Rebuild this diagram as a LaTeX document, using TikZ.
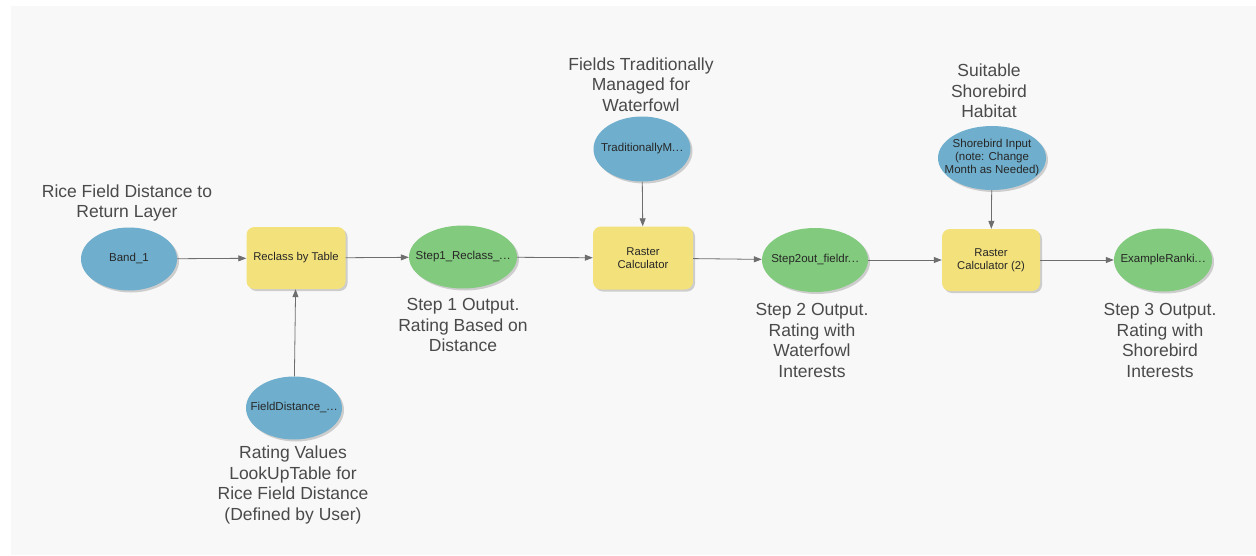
\documentclass[tikz,border=0pt]{standalone}
\usepackage{fontspec}
\setmainfont{Liberation Sans}
\usetikzlibrary{shapes.geometric,arrows.meta,shadows}
\definecolor{bgc}{HTML}{F8F8F8}
\definecolor{blu}{HTML}{6FAFCD}
\definecolor{grn}{HTML}{82CA7D}
\definecolor{yel}{HTML}{F3E27B}
\definecolor{lbl}{HTML}{4A4A4A}
\definecolor{arr}{HTML}{6E6E6E}
\newcommand{\zb}[1]{\makebox[0pt]{\begin{tabular}{@{}c@{}}#1\end{tabular}}}
\newcommand{\dts}{.\kern0.6pt.\kern0.6pt.}
\tikzset{
  shad/.style={drop shadow={shadow xshift=2pt,shadow yshift=-2pt,fill=black!40,opacity=0.45}},
  dataell/.style={ellipse,inner sep=0pt,font=\fontsize{11.5}{13}\selectfont,text=black!85,align=center,shad},
  inp/.style={dataell,fill=blu},
  outp/.style={dataell,fill=grn},
  tool/.style={rectangle,rounded corners=8pt,fill=yel,inner sep=0pt,font=\fontsize{11.3}{13}\selectfont,text=black!85,align=center,shad},
  lab/.style={font=\fontsize{17.5}{20.6}\selectfont,text=lbl,align=center},
  conn/.style={draw=arr,line width=0.8pt,-{Triangle[length=8pt,width=6pt]}}
}
\begin{document}
\begin{tikzpicture}[x=1pt,y=-1pt]
\useasboundingbox (0,0) rectangle (1256,555);
\fill[white] (0,0) rectangle (1256,555);
\fill[bgc] (11,6) rectangle (1256,555);
% nodes
\node[inp,minimum width=96pt,minimum height=63pt] (band) at (129,259) {\zb{Band\_1}};
\node[tool,minimum width=99pt,minimum height=62pt] (reclass) at (296,258) {Reclass by Table};
\node[outp,minimum width=108pt,minimum height=63pt] (step1) at (463,257) {\zb{Step1\_Reclass\_\dts}};
\node[tool,minimum width=100pt,minimum height=63pt] (raster) at (643,258) {Raster\\Calculator};
\node[inp,minimum width=97pt,minimum height=65pt] (trad) at (642,149) {\zb{TraditionallyM\dts}};
\node[outp,minimum width=106pt,minimum height=64pt] (step2) at (815,260) {\zb{Step2out\_fieldr\dts}};
\node[tool,minimum width=98pt,minimum height=62pt] (raster2) at (991,260) {Raster\\Calculator (2)};
\node[inp,minimum width=108pt,minimum height=64pt] (shore) at (992,158) {\zb{Shorebird Input\\(note: Change\\Month as Needed)}};
\node[outp,minimum width=98pt,minimum height=63pt] (example) at (1163,260) {\zb{ExampleRanki\dts}};
\node[inp,minimum width=96pt,minimum height=63pt] (fdist) at (294,408) {\zb{FieldDistance\_\dts}};
% labels
\node[lab,anchor=north] (lband) at (127,181) {Rice Field Distance to\\Return Layer};
\node[lab,anchor=north] (lstep1) at (463,295) {Step 1 Output.\\Rating Based on\\Distance};
\node[lab,anchor=north] (ltrad) at (641,54) {Fields Traditionally\\Managed for\\Waterfowl};
\node[lab,anchor=north] (lstep2) at (812,300) {Step 2 Output.\\Rating with\\Waterfowl\\Interests};
\node[lab,anchor=north] (lshore) at (989,60.5) {Suitable\\Shorebird\\Habitat};
\node[lab,anchor=north] (lstep3) at (1160,300) {Step 3 Output.\\Rating with\\Shorebird\\Interests};
\node[lab,anchor=north] (lfdist) at (293,442.5) {Rating Values\\LookUpTable for\\Rice Field Distance\\(Defined by User)};
% connectors
\draw[conn] (band) -- (reclass);
\draw[conn] (reclass) -- (step1);
\draw[conn] (step1) -- (raster);
\draw[conn] (trad) -- (raster);
\draw[conn] (fdist) -- (reclass);
\draw[conn] (raster) -- (step2);
\draw[conn] (step2) -- (raster2);
\draw[conn] (shore) -- (raster2);
\draw[conn] (raster2) -- (example);
\end{tikzpicture}
\end{document}
